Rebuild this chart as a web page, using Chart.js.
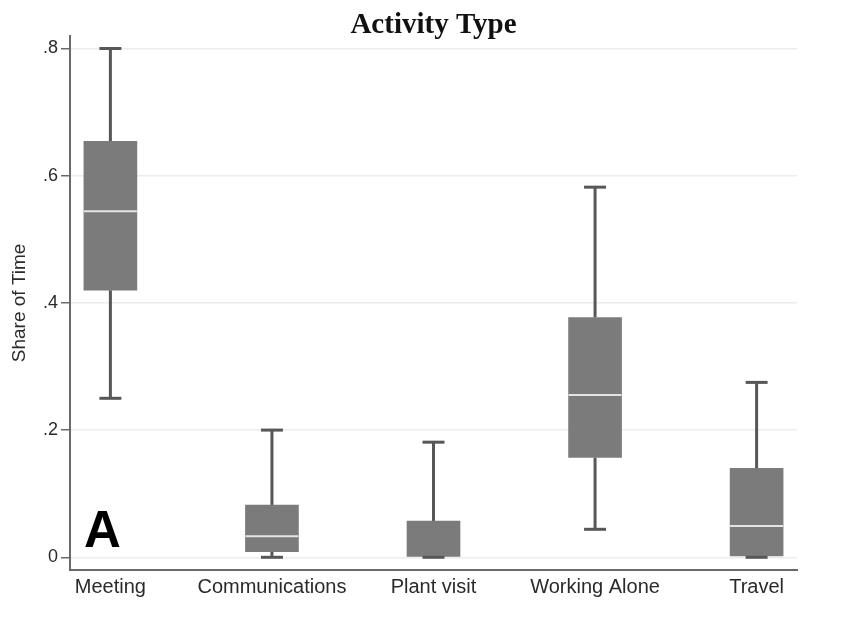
<!DOCTYPE html>
<html>
<head>
<meta charset="utf-8">
<title>Activity Type</title>
<script src="https://cdn.jsdelivr.net/npm/chart.js@4.4.1/dist/chart.umd.min.js"></script>
<style>
  html, body { margin: 0; padding: 0; background: #ffffff; }
  #wrap { width: 857px; height: 625px; position: relative; }
</style>
</head>
<body>
<div id="wrap"><canvas id="chart"></canvas></div>
<script>
// Share of time by activity type: box-and-whisker summary per category
const categories   = ['Meeting', 'Communications', 'Plant visit', 'Working Alone', 'Travel'];
const whiskerLow   = [0.250, 0.000, 0.000, 0.044, 0.000];
const quartile1    = [0.420, 0.009, 0.000, 0.157, 0.002];
const medians      = [0.544, 0.033, 0.000, 0.255, 0.049];
const quartile3    = [0.654, 0.082, 0.057, 0.377, 0.140];
const whiskerHigh  = [0.800, 0.200, 0.181, 0.582, 0.275];
const yTickValues  = [0, 0.2, 0.4, 0.6, 0.8];
const yTickLabels  = ['0', '.2', '.4', '.6', '.8'];

const BOX_COLOR = '#7b7b7b';
const WHISKER_COLOR = '#575757';
const MEDIAN_COLOR = '#e4e4e4';
const BOX_WIDTH = 53;
const CAP_WIDTH = 22;

// Whiskers, caps and median lines, placed with the chart's own scales
const boxExtras = {
  id: 'boxExtras',
  beforeDatasetsDraw(chart) {
    const { ctx, scales: { x, y } } = chart;
    ctx.save();
    ctx.strokeStyle = WHISKER_COLOR;
    ctx.lineWidth = 3;
    categories.forEach((_, i) => {
      const cx = x.getPixelForValue(i);
      ctx.beginPath();
      ctx.moveTo(cx, y.getPixelForValue(whiskerLow[i]));
      ctx.lineTo(cx, y.getPixelForValue(quartile1[i]));
      ctx.moveTo(cx, y.getPixelForValue(quartile3[i]));
      ctx.lineTo(cx, y.getPixelForValue(whiskerHigh[i]));
      ctx.stroke();
    });
    ctx.restore();
  },
  afterDatasetsDraw(chart) {
    const { ctx, scales: { x, y } } = chart;
    ctx.save();
    categories.forEach((_, i) => {
      const cx = x.getPixelForValue(i);
      // median line inside the box
      if (medians[i] > quartile1[i] && medians[i] < quartile3[i]) {
        ctx.strokeStyle = MEDIAN_COLOR;
        ctx.lineWidth = 2;
        const my = y.getPixelForValue(medians[i]);
        ctx.beginPath();
        ctx.moveTo(cx - BOX_WIDTH / 2, my);
        ctx.lineTo(cx + BOX_WIDTH / 2, my);
        ctx.stroke();
      }
      // whisker caps
      ctx.strokeStyle = WHISKER_COLOR;
      ctx.lineWidth = 3;
      [whiskerLow[i], whiskerHigh[i]].forEach(v => {
        const py = y.getPixelForValue(v);
        ctx.beginPath();
        ctx.moveTo(cx - CAP_WIDTH / 2, py);
        ctx.lineTo(cx + CAP_WIDTH / 2, py);
        ctx.stroke();
      });
    });
    // panel letter
    ctx.fillStyle = '#000000';
    ctx.font = 'bold 51px "Liberation Sans", Arial, sans-serif';
    ctx.textAlign = 'left';
    ctx.textBaseline = 'alphabetic';
    ctx.fillText('A', chart.chartArea.left + 14, 547);
    ctx.restore();
  }
};

new Chart(document.getElementById('chart'), {
  type: 'bar',
  data: {
    datasets: [{
      label: 'Share of Time',
      data: categories.map((c, i) => ({ x: i, y: [quartile1[i], quartile3[i]] })),
      backgroundColor: BOX_COLOR,
      borderWidth: 0,
      barThickness: BOX_WIDTH,
      grouped: false
    }]
  },
  options: {
    responsive: true,
    maintainAspectRatio: false,
    animation: false,
    layout: { padding: { left: 0, right: 60, top: 0, bottom: 0 } },
    plugins: {
      legend: { display: false },
      tooltip: { enabled: false },
      title: {
        display: true,
        text: 'Activity Type',
        fullSize: false,
        color: '#111111',
        font: { family: '"Liberation Serif", "DejaVu Serif", serif', size: 29, weight: 'bold', lineHeight: 1.2 },
        padding: { top: 8, bottom: -7 }
      }
    },
    scales: {
      x: {
        type: 'linear',
        offset: false,
        min: -0.25,
        max: 4.25,
        afterBuildTicks: s => { s.ticks = categories.map((c, i) => ({ value: i })); },
        afterFit: s => { s.height = 55; },
        grid: { display: false, drawTicks: false, offset: false },
        border: { display: true, color: '#6a6a6a', width: 2 },
        ticks: {
          autoSkip: false,
          maxRotation: 0,
          padding: 5,
          color: '#2a2a2a',
          font: { family: '"Liberation Sans", Arial, sans-serif', size: 20 },
          callback: v => categories[v] ?? ''
        }
      },
      y: {
        type: 'linear',
        min: -0.02,
        max: 0.82,
        afterBuildTicks: s => { s.ticks = yTickValues.map(v => ({ value: v })); },
        afterFit: s => { s.width = 70; },
        grid: {
          color: '#ececec',
          lineWidth: 1.5,
          drawTicks: true,
          tickLength: 9,
          tickColor: '#6a6a6a',
          tickWidth: 1.5
        },
        border: { display: true, color: '#6a6a6a', width: 2 },
        ticks: {
          padding: 3,
          color: '#2a2a2a',
          font: { family: '"Liberation Sans", Arial, sans-serif', size: 18 },
          callback: v => {
            const k = yTickValues.findIndex(t => Math.abs(t - v) < 1e-9);
            return k >= 0 ? yTickLabels[k] : '';
          }
        },
        title: {
          display: true,
          text: 'Share of Time',
          color: '#2a2a2a',
          padding: { top: 8, bottom: 0 },
          font: { family: '"Liberation Sans", Arial, sans-serif', size: 19 }
        }
      }
    }
  },
  plugins: [boxExtras]
});
</script>
</body>
</html>
